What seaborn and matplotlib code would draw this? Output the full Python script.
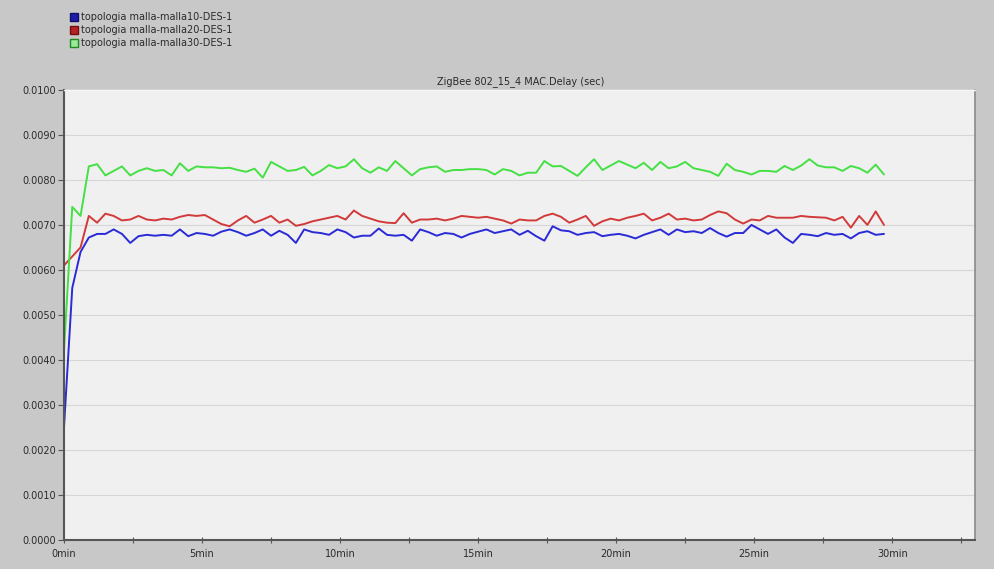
import numpy as np
import pandas as pd
import matplotlib
matplotlib.use("Agg")
import matplotlib.pyplot as plt
from matplotlib.lines import Line2D
from matplotlib.ticker import MultipleLocator, FuncFormatter
import seaborn as sns

series_names = ["topologia malla-malla10-DES-1",
                "topologia malla-malla20-DES-1",
                "topologia malla-malla30-DES-1"]
series_colors = ["#2a2ad6", "#d23a3a", "#44e044"]
legend_face = ["#1c1ca8", "#b82222", "#9ee89e"]
legend_edge = ["#10106a", "#701010", "#1e8a1e"]
chart_title = "ZigBee 802_15_4 MAC.Delay (sec)"

time_min = [round(i * 0.3, 1) for i in range(100)]

malla10 = [0.0025, 0.0056, 0.0064, 0.00672, 0.0068, 0.0068, 0.0069, 0.0068, 0.0066, 0.00675,
           0.00678, 0.00676, 0.00678, 0.00676, 0.0069, 0.00675, 0.00682, 0.0068, 0.00676, 0.00685,
           0.0069, 0.00684, 0.00676, 0.00682, 0.0069, 0.00676, 0.00687, 0.00678, 0.0066, 0.0069,
           0.00684, 0.00682, 0.00678, 0.0069, 0.00684, 0.00672, 0.00676, 0.00676, 0.00692, 0.00678,
           0.00676, 0.00678, 0.00665, 0.0069, 0.00684, 0.00676, 0.00682, 0.0068, 0.00672, 0.0068,
           0.00685, 0.0069, 0.00682, 0.00686, 0.0069, 0.00678, 0.00687, 0.00675, 0.00665, 0.00697,
           0.00688, 0.00686, 0.00678, 0.00682, 0.00684, 0.00675, 0.00678, 0.0068, 0.00676, 0.0067,
           0.00678, 0.00684, 0.0069, 0.00678, 0.0069, 0.00684, 0.00686, 0.00682, 0.00693, 0.00682,
           0.00674, 0.00682, 0.00682, 0.0070, 0.0069, 0.0068, 0.0069, 0.00672, 0.0066, 0.0068,
           0.00678, 0.00675, 0.00682, 0.00678, 0.0068, 0.0067, 0.00682, 0.00686, 0.00678, 0.0068]

malla20 = [0.0061, 0.0063, 0.0065, 0.0072, 0.00705, 0.00725, 0.0072, 0.0071, 0.00712, 0.0072,
           0.00712, 0.0071, 0.00714, 0.00712, 0.00718, 0.00722, 0.0072, 0.00722, 0.00712, 0.00702,
           0.00697, 0.0071, 0.0072, 0.00705, 0.00712, 0.0072, 0.00705, 0.00712, 0.00698, 0.00702,
           0.00708, 0.00712, 0.00716, 0.0072, 0.00712, 0.00732, 0.0072, 0.00714, 0.00708, 0.00705,
           0.00704, 0.00726, 0.00705, 0.00712, 0.00712, 0.00714, 0.0071, 0.00714, 0.0072, 0.00718,
           0.00716, 0.00718, 0.00714, 0.0071, 0.00703, 0.00712, 0.0071, 0.0071, 0.0072, 0.00725,
           0.00718, 0.00705, 0.00712, 0.0072, 0.00698, 0.00708, 0.00714, 0.0071, 0.00716, 0.0072,
           0.00725, 0.0071, 0.00716, 0.00725, 0.00712, 0.00714, 0.0071, 0.00712, 0.00722, 0.0073,
           0.00726, 0.00712, 0.00703, 0.00712, 0.0071, 0.0072, 0.00716, 0.00716, 0.00716, 0.0072,
           0.00718, 0.00717, 0.00716, 0.0071, 0.00718, 0.00694, 0.0072, 0.0070, 0.0073, 0.0070]

malla30 = [0.0042, 0.0074, 0.0072, 0.0083, 0.00835, 0.0081, 0.0082, 0.0083, 0.0081, 0.0082,
           0.00826, 0.0082, 0.00822, 0.0081, 0.00837, 0.0082, 0.0083, 0.00828, 0.00828, 0.00826,
           0.00827, 0.00822, 0.00818, 0.00825, 0.00805, 0.0084, 0.0083, 0.0082, 0.00822, 0.00829,
           0.0081, 0.0082, 0.00833, 0.00826, 0.0083, 0.00846, 0.00826, 0.00816, 0.00828, 0.0082,
           0.00842, 0.00826, 0.0081, 0.00824, 0.00828, 0.0083, 0.00818, 0.00822, 0.00822, 0.00824,
           0.00824, 0.00822, 0.00812, 0.00824, 0.0082, 0.0081, 0.00816, 0.00816, 0.00842, 0.0083,
           0.00831, 0.0082, 0.00809, 0.00828, 0.00846, 0.00822, 0.00832, 0.00842, 0.00834, 0.00826,
           0.00838, 0.00822, 0.0084, 0.00826, 0.0083, 0.0084, 0.00826, 0.00822, 0.00818, 0.00809,
           0.00836, 0.00822, 0.00818, 0.00812, 0.0082, 0.0082, 0.00818, 0.00831, 0.00822, 0.00832,
           0.00846, 0.00832, 0.00828, 0.00828, 0.0082, 0.00831, 0.00826, 0.00816, 0.00834, 0.00812]

y_ticks = [0.0, 0.001, 0.002, 0.003, 0.004, 0.005, 0.006, 0.007, 0.008, 0.009, 0.010]
x_major = [0, 5, 10, 15, 20, 25, 30]

df = pd.DataFrame({
    "time": time_min * 3,
    "delay": malla10 + malla20 + malla30,
    "series": [series_names[0]] * 100 + [series_names[1]] * 100 + [series_names[2]] * 100,
})

sns.set_theme(style="white")
plt.rcParams["font.family"] = ["DejaVu Sans"]

fig = plt.figure(figsize=(9.95, 5.69), dpi=100, facecolor="#c8c8c8")
ax = fig.add_axes([0.0643, 0.051, 0.9157, 0.791])
ax.set_facecolor("#f0f0f0")

sns.lineplot(data=df, x="time", y="delay", hue="series", palette=series_colors,
             hue_order=series_names, linewidth=1.4, ax=ax, legend=False, estimator=None)

ax.set_xlim(0, 33)
ax.set_ylim(0, 0.0100)
ax.set_yticks(y_ticks)
ax.yaxis.set_major_formatter(FuncFormatter(lambda v, p: f"{v:.4f}"))
ax.set_xticks(x_major)
ax.set_xticklabels([f"{m}min" for m in x_major])
ax.xaxis.set_minor_locator(MultipleLocator(2.5))
ax.grid(axis="y", color="#d6d6d6", linewidth=0.8)
ax.set_axisbelow(True)
ax.set_xlabel("")
ax.set_ylabel("")

ax.spines["top"].set_color("#f8f8f8")
ax.spines["top"].set_linewidth(1.0)
ax.spines["right"].set_color("#8a8a8a")
ax.spines["right"].set_linewidth(1.2)
for side in ["left", "bottom"]:
    ax.spines[side].set_color("#555555")
    ax.spines[side].set_linewidth(1.5)

ax.tick_params(axis="y", which="major", direction="out", length=4, width=0.8,
               color="#555555", labelsize=7, labelcolor="#2a2a2a", pad=2, left=True)
ax.tick_params(axis="x", which="both", direction="inout", length=5, width=0.8,
               color="#555555", labelsize=7, labelcolor="#2a2a2a", pad=4, bottom=True)

fig.text(0.523, 0.857, chart_title, ha="center", va="center", fontsize=7, color="#2a2a2a")

handles = [Line2D([0], [0], marker="s", linestyle="none", markersize=6,
                  markerfacecolor=legend_face[k], markeredgecolor=legend_edge[k],
                  markeredgewidth=1.0) for k in range(3)]
fig.legend(handles, series_names, loc="upper left", bbox_to_anchor=(0.066, 0.985),
           frameon=False, fontsize=7, handletextpad=0.2, labelspacing=0.3,
           borderaxespad=0, handlelength=1.0, labelcolor="#2a2a2a")

fig.savefig("out.png", dpi=100, facecolor=fig.get_facecolor())
